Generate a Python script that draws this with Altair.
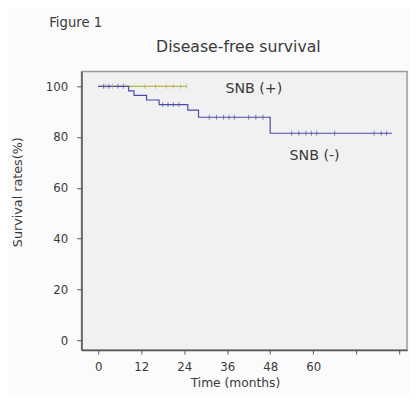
import altair as alt
import pandas as pd

# Kaplan-Meier step data (months, survival %)
neg_times = [0, 8.5, 10, 13.5, 17, 25, 28, 48, 82]
neg_surv = [100, 98.2, 96.4, 94.6, 92.8, 90.6, 87.8, 81.5, 81.5]
neg_cens_t = [1.5, 3, 5.5, 7, 18, 19.5, 21, 22.5, 31, 33, 35, 36.5, 38, 42, 44, 46,
              54, 56, 58, 59.5, 61, 66, 77, 79, 80.5]
neg_cens_s = [100, 100, 100, 100, 92.8, 92.8, 92.8, 92.8, 87.8, 87.8, 87.8, 87.8, 87.8,
              87.8, 87.8, 87.8, 81.5, 81.5, 81.5, 81.5, 81.5, 81.5, 81.5, 81.5, 81.5]

pos_times = [0, 24.7]
pos_surv = [100, 100]
pos_cens_t = [2, 4, 13, 16, 19, 21, 23, 24.7]
pos_cens_s = [100, 100, 100, 100, 100, 100, 100, 100]

x_ticks = [0, 12, 24, 36, 48, 60, 72, 84]
y_ticks = [0, 20, 40, 60, 80, 100]

labels = ["SNB (+)", "SNB (-)"]
label_x = [35.5, 53.4]
label_y = [99, 72.6]

FONT = "DejaVu Sans"
BLUE = "#4b4ba6"
GREEN = "#b2b45a"
TXT = "#3a3a3a"

neg_df = pd.DataFrame({"t": neg_times, "s": neg_surv})
pos_df = pd.DataFrame({"t": pos_times, "s": pos_surv})
negc_df = pd.DataFrame({"t": neg_cens_t, "s": neg_cens_s})
posc_df = pd.DataFrame({"t": pos_cens_t, "s": pos_cens_s})
lab_df = pd.DataFrame({"t": label_x, "s": label_y, "txt": labels})

xs = alt.Scale(domain=[-4.65, 86.2], nice=False, zero=False)
ys = alt.Scale(domain=[-3.9, 105.8], nice=False, zero=False)

X = alt.X("t:Q", scale=xs, axis=alt.Axis(values=x_ticks, title="",
          labelExpr="datum.value <= 60 ? datum.label : ''", grid=False,
          tickSize=4, labelPadding=8))
Y = alt.Y("s:Q", scale=ys, axis=alt.Axis(values=y_ticks, title="",
          grid=False, tickSize=5, labelPadding=9))

pos_line = alt.Chart(pos_df).mark_line(interpolate="step-after", color=GREEN, strokeWidth=1.2).encode(x=X, y=Y)
neg_line = alt.Chart(neg_df).mark_line(interpolate="step-after", color=BLUE, strokeWidth=1.2).encode(x=X, y=Y)
pos_c = alt.Chart(posc_df).mark_tick(orient="vertical", size=5, thickness=1, color=GREEN).encode(x=X, y=Y)
neg_c = alt.Chart(negc_df).mark_tick(orient="vertical", size=5, thickness=1, color=BLUE).encode(x=X, y=Y)
lab = alt.Chart(lab_df).mark_text(align="left", baseline="middle", font=FONT, fontSize=14.5,
                                  color=TXT).encode(x=X, y=Y, text="txt:N")

fig_df = pd.DataFrame({"txt": ["Figure 1"]})
fig = alt.Chart(fig_df).mark_text(align="left", baseline="middle", font=FONT, fontSize=13.5,
                                  color=TXT).encode(x=alt.value(-33), y=alt.value(-49), text="txt:N")
ttl_df = pd.DataFrame({"txt": ["Disease-free survival"]})
ttl = alt.Chart(ttl_df).mark_text(align="center", baseline="middle", font=FONT, fontSize=16,
                                  color=TXT).encode(x=alt.value(160), y=alt.value(-25), text="txt:N")
xt_df = pd.DataFrame({"txt": ["Time (months)"]})
xt = alt.Chart(xt_df).mark_text(align="center", baseline="middle", font=FONT, fontSize=12.5,
                                color=TXT).encode(x=alt.value(157), y=alt.value(318), text="txt:N")
yt_df = pd.DataFrame({"txt": ["Survival rates(%)"]})
yt = alt.Chart(yt_df).mark_text(align="center", baseline="middle", font=FONT, fontSize=13,
                                angle=270, color=TXT).encode(x=alt.value(-65), y=alt.value(123), text="txt:N")

chart = alt.layer(pos_line, neg_line, pos_c, neg_c, lab, fig, ttl, xt, yt).properties(
    width=332, height=284,
    autosize=alt.AutoSizeParams(type="none"),
    padding={"left": 75, "top": 61, "right": 2, "bottom": 42},
    background="#fbfbfb",
).configure_view(fill="#f1f1f1", stroke="#9a9a9a", strokeWidth=1.5).configure_axis(
    labelFont=FONT, labelFontSize=12, labelColor=TXT,
    domainColor="#555555", domainWidth=1.5, tickColor="#555555",
)

chart.save("out.html", embed_options={"renderer": "svg", "actions": False})
